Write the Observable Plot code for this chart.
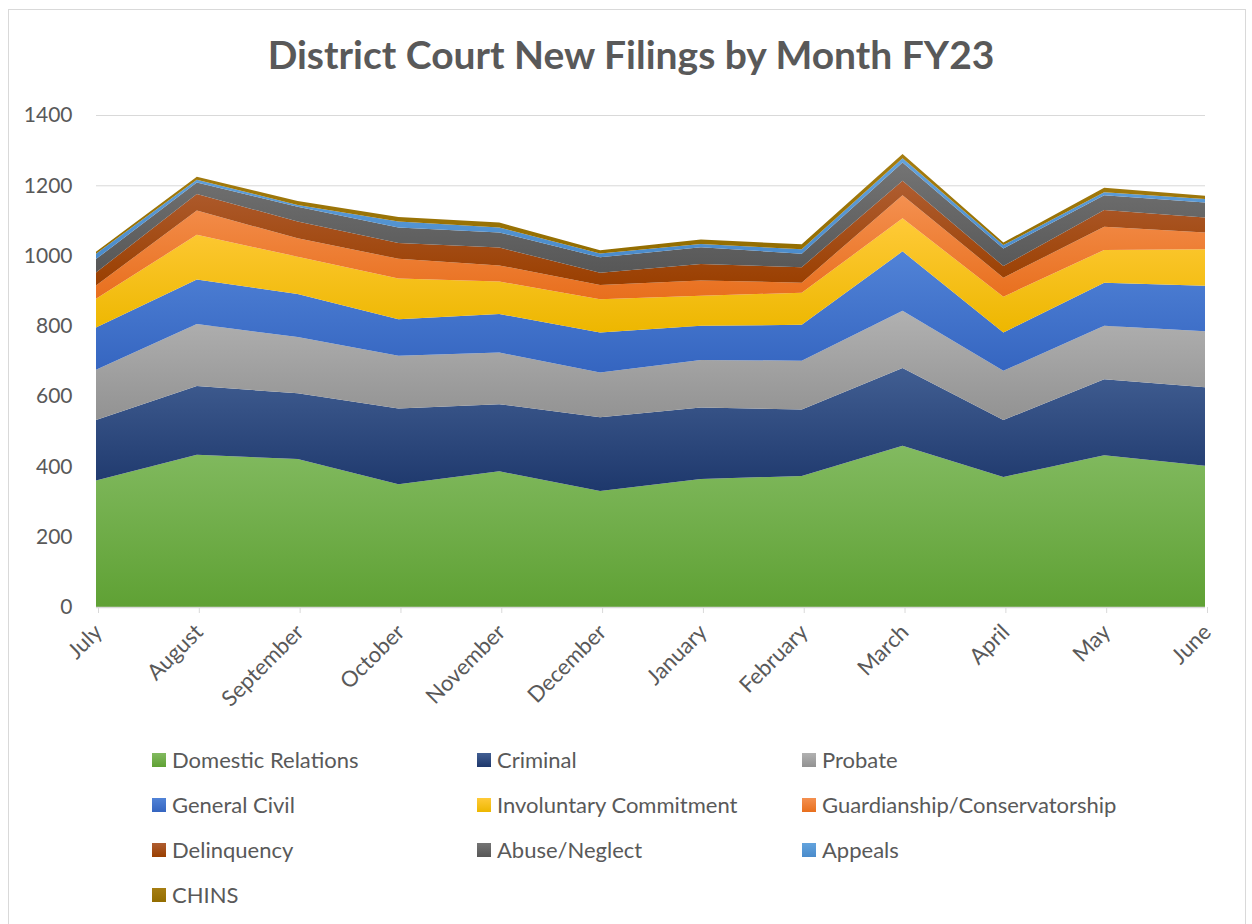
<!DOCTYPE html>
<html>
<head>
<meta charset="utf-8">
<script src="https://cdn.jsdelivr.net/npm/d3@7"></script>
<script src="https://cdn.jsdelivr.net/npm/@observablehq/plot@0.6"></script>
<style>
  html, body { margin: 0; padding: 0; background: #fff; }
  #wrap { position: relative; width: 1252px; height: 924px; overflow: hidden; font-family: Lato, "Open Sans", sans-serif; }
  #frame { position: absolute; left: 8px; top: 9px; width: 1238px; height: 930px; border: 1px solid #d9d9d9; box-sizing: border-box; }
  #title { position: absolute; left: 0; top: 31px; width: 1262px; text-align: center; font-weight: 700; font-size: 39px; color: #595959; line-height: 46px; }
  #chart { position: absolute; left: 0; top: 0; }
  .leg { position: absolute; display: flex; align-items: center; font-size: 22px; color: #595959; line-height: 26px; white-space: nowrap; }
  .sw { width: 14px; height: 14px; margin-right: 6px; flex: none; }
</style>
</head>
<body>
<div id="wrap">
  <div id="frame"></div>
  <div id="chart"></div>
  <div id="title">District Court New Filings by Month FY23</div>
  <div id="legend"></div>
</div>
<script>
const months = ["July","August","September","October","November","December","January","February","March","April","May","June"];
const seriesNames = ["Domestic Relations","Criminal","Probate","General Civil","Involuntary Commitment","Guardianship/Conservatorship","Delinquency","Abuse/Neglect","Appeals","CHINS"];

const domesticRelations     = [360,433,421,349,386,330,364,373,459,370,432,402];
const criminal              = [172,196,187,216,191,210,204,189,221,162,216,223];
const probate               = [143,176,160,150,147,127,135,139,163,140,152,160];
const generalCivil          = [120,127,123,104,110,114, 97,102,169,109,123,129];
const involuntaryCommitment = [ 82,127,106,116, 92, 95, 86, 91, 94,102, 93,104];
const guardianship          = [ 38, 69, 52, 56, 46, 40, 43, 29, 66, 54, 66, 48];
const delinquency           = [ 37, 47, 48, 45, 51, 35, 47, 44, 41, 33, 48, 42];
const abuseNeglect          = [ 38, 33, 42, 44, 43, 44, 48, 38, 52, 50, 42, 43];
const appeals               = [ 15,  8,  5, 17, 14, 11,  9, 13, 12, 10,  8, 10];
const chins                 = [  6,  8, 11, 13, 14,  9, 13, 14, 12,  7, 13,  9];

const yTicks = [0,200,400,600,800,1000,1200,1400];

// gradient colors (top, bottom) per series
const gradTop    = ["#82BA60","#415E92","#B1B1B1","#5183D7","#FFCA38","#F49050","#AF5D31","#747474","#63A3DD","#A67E12"];
const gradBottom = ["#5FA134","#1E386C","#929292","#3565C0","#EDB700","#E86F1D","#9A3F00","#575757","#4A8BCB","#936D00"];

const seriesValues = [domesticRelations, criminal, probate, generalCivil, involuntaryCommitment, guardianship, delinquency, abuseNeglect, appeals, chins];

const data = [];
seriesNames.forEach((s, i) => {
  months.forEach((m, j) => data.push({series: s, month: m, value: seriesValues[i][j]}));
});

const W = 1252, H = 707;
const chart = Plot.plot({
  width: W,
  height: H,
  marginLeft: 96,
  marginRight: 47,
  marginTop: 115,
  marginBottom: 100,
  style: {fontFamily: "Lato, 'Open Sans', sans-serif", color: "#595959", background: "transparent", overflow: "visible"},
  x: {type: "point", domain: months, padding: 0, round: false, range: [96, 1205], label: null},
  y: {domain: [0, 1400], range: [607, 115], label: null},
  color: {type: "ordinal", domain: seriesNames, range: seriesNames.map((s, i) => `url(#grad${i})`)},
  marks: [
    Plot.gridY(yTicks, {stroke: "#d9d9d9", strokeOpacity: 1}),
    Plot.areaY(data, {x: "month", y: "value", fill: "series", z: "series", order: seriesNames}),
    Plot.ruleY([0], {stroke: "#d9d9d9", strokeWidth: 1.5}),
    Plot.axisY(yTicks, {tickSize: 0, tickPadding: 24, fontSize: 21, fill: "#595959", tickFormat: d => String(d)}),
    Plot.axisX(months, {tickRotate: -45, tickSize: 6, tickPadding: 15, dx: 2, fontSize: 22, stroke: "#d9d9d9", fill: "#595959"})
  ]
});

const svg = d3.select(chart);
const defs = svg.insert("defs", ":first-child");
seriesNames.forEach((s, i) => {
  const g = defs.append("linearGradient").attr("id", `grad${i}`).attr("x1", 0).attr("y1", 0).attr("x2", 0).attr("y2", 1);
  g.append("stop").attr("offset", "0%").attr("stop-color", gradTop[i]);
  g.append("stop").attr("offset", "100%").attr("stop-color", gradBottom[i]);
});
document.getElementById("chart").appendChild(chart);

// legend
const legend = document.getElementById("legend");
const colX = [152, 477, 802];
const rowY = [760, 805, 850, 895];
seriesNames.forEach((s, i) => {
  const el = document.createElement("div");
  el.className = "leg";
  el.style.left = colX[i % 3] + "px";
  el.style.top = (rowY[Math.floor(i / 3)] - 13) + "px";
  const sw = document.createElement("div");
  sw.className = "sw";
  sw.style.background = `linear-gradient(${gradTop[i]}, ${gradBottom[i]})`;
  el.appendChild(sw);
  const t = document.createElement("span");
  t.textContent = s;
  el.appendChild(t);
  legend.appendChild(el);
});
</script>
</body>
</html>
